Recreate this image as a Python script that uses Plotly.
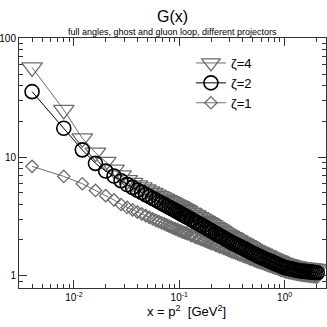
import plotly.graph_objects as go

# momenta x = p^2 [GeV^2] (shared by all three projectors)
x_vals = [0.004, 0.008, 0.012, 0.016, 0.020, 0.024, 0.028, 0.032, 0.036, 0.040,
          0.044, 0.048, 0.052, 0.056, 0.060, 0.064, 0.068, 0.072, 0.076, 0.080,
          0.084, 0.088, 0.092, 0.096, 0.100,
          0.104, 0.108, 0.112, 0.116, 0.120, 0.128, 0.132, 0.140, 0.144, 0.152,
          0.160, 0.168, 0.176, 0.184, 0.192, 0.200, 0.208, 0.220, 0.228, 0.240,
          0.252, 0.264, 0.276, 0.288, 0.300, 0.316, 0.328, 0.344, 0.360, 0.376,
          0.392, 0.412, 0.432, 0.452, 0.472, 0.492, 0.516, 0.540, 0.564, 0.588,
          0.616, 0.644, 0.672, 0.704, 0.736, 0.768, 0.804, 0.840, 0.880, 0.920,
          0.960, 1.004, 1.048, 1.096, 1.148, 1.200, 1.252, 1.312, 1.372, 1.432,
          1.496, 1.564, 1.636, 1.712, 1.788, 1.868, 1.952, 2.040]

g_zeta4 = [57, 25.0, 14.4, 10.9, 9.12, 7.85, 7.0, 6.38, 6.05, 5.78,
           5.55, 5.33, 5.14, 4.98, 4.83, 4.69, 4.57, 4.46, 4.35, 4.25,
           4.16, 4.07, 3.99, 3.92, 3.85,
           3.77, 3.70, 3.64, 3.57, 3.51, 3.40, 3.35, 3.25, 3.21, 3.12,
           3.04, 2.97, 2.90, 2.83, 2.77, 2.70, 2.65, 2.57, 2.52, 2.45,
           2.38, 2.32, 2.26, 2.21, 2.16, 2.11, 2.07, 2.02, 1.98, 1.93,
           1.90, 1.85, 1.81, 1.77, 1.73, 1.69, 1.65, 1.62, 1.585, 1.56,
           1.53, 1.50, 1.48, 1.45, 1.42, 1.40, 1.37, 1.35, 1.33, 1.30,
           1.28, 1.26, 1.25, 1.24, 1.22, 1.21, 1.20, 1.19, 1.18, 1.17,
           1.17, 1.16, 1.16, 1.15, 1.15, 1.14, 1.14, 1.135]

g_zeta2 = [35.6, 17.5, 11.5, 8.85, 7.62, 6.92, 6.32, 5.86, 5.55, 5.26,
           5.04, 4.82, 4.65, 4.48, 4.34, 4.20, 4.08, 3.97, 3.86, 3.78,
           3.68, 3.61, 3.52, 3.46, 3.39,
           3.32, 3.26, 3.20, 3.15, 3.09, 3.00, 2.95, 2.86, 2.82, 2.75,
           2.68, 2.62, 2.56, 2.50, 2.45, 2.39, 2.35, 2.28, 2.24, 2.18,
           2.13, 2.08, 2.03, 1.99, 1.95, 1.90, 1.87, 1.83, 1.79, 1.76,
           1.73, 1.69, 1.65, 1.62, 1.58, 1.55, 1.52, 1.49, 1.46, 1.44,
           1.41, 1.39, 1.36, 1.34, 1.32, 1.30, 1.27, 1.25, 1.23, 1.21,
           1.19, 1.17, 1.16, 1.15, 1.14, 1.13, 1.12, 1.11, 1.10, 1.095,
           1.09, 1.086, 1.081, 1.077, 1.073, 1.068, 1.064, 1.059]

g_zeta1 = [8.35, 6.87, 5.96, 5.23, 4.73, 4.35, 3.98, 3.76, 3.59, 3.44,
           3.32, 3.21, 3.10, 3.01, 2.93, 2.86, 2.79, 2.73, 2.67, 2.62,
           2.57, 2.52, 2.48, 2.44, 2.40,
           2.37, 2.33, 2.30, 2.28, 2.25, 2.20, 2.17, 2.13, 2.10, 2.06,
           2.03, 1.99, 1.96, 1.93, 1.90, 1.87, 1.85, 1.81, 1.79, 1.75,
           1.73, 1.70, 1.67, 1.65, 1.62, 1.59, 1.57, 1.55, 1.52, 1.50,
           1.48, 1.45, 1.43, 1.41, 1.38, 1.37, 1.34, 1.32, 1.30, 1.29,
           1.27, 1.25, 1.23, 1.21, 1.20, 1.18, 1.16, 1.15, 1.13, 1.11,
           1.10, 1.08, 1.07, 1.06, 1.05, 1.045, 1.036, 1.026, 1.018, 1.010,
           1.006, 1.001, 0.996, 0.991, 0.987, 0.982, 0.978, 0.973]

series_names = ["ζ=4", "ζ=2", "ζ=1"]
x_tick_vals = [0.01, 0.1, 1]
x_tick_text = ["10<sup>-2</sup>", "10<sup>-1</sup>", "10<sup>0</sup>"]
y_tick_vals = [1, 10, 100]
y_tick_text = ["1", "10", "100"]

assert len(x_vals) == len(g_zeta4) == len(g_zeta2) == len(g_zeta1)

FONT = "Liberation Sans, Arial, sans-serif"
GRAY = "#6c6c6c"

fig = go.Figure()
# drawing order: diamonds, triangles, circles on top; legend order kept by rank
styles = {
    "ζ=4": (g_zeta4, "triangle-down-open", 18, GRAY, 1.3, 1),
    "ζ=2": (g_zeta2, "circle-open", 14, "#000000", 1.6, 2),
    "ζ=1": (g_zeta1, "diamond-open", 9.5, GRAY, 1.3, 3),
}
for name in ["ζ=1", "ζ=4", "ζ=2"]:
    ys, sym, size, col, lw, rank = styles[name]
    fig.add_trace(go.Scatter(
        x=x_vals, y=ys, mode="lines+markers", name=name, legendrank=rank,
        line=dict(color=col, width=1),
        marker=dict(symbol=sym, size=size, color=col, line=dict(width=lw, color=col)),
    ))

minor_x = [m * 10 ** e for e in (-3, -2, -1, 0) for m in range(2, 10)]
minor_y = [m * 10 ** e for e in (-1, 0, 1) for m in range(2, 10)]

axis_common = dict(
    type="log", ticks="inside", ticklen=8, tickwidth=1, tickcolor="#333",
    showline=True, linecolor="#333", linewidth=1, mirror="ticks",
    showgrid=False, zeroline=False, automargin=False,
    tickfont=dict(family=FONT, size=10, color="#000"),
)
fig.update_xaxes(
    range=[-2.522, 0.393], tickvals=x_tick_vals, ticktext=x_tick_text,
    minor=dict(tickvals=minor_x, ticks="inside", ticklen=4, tickcolor="#333", showgrid=False),
    **axis_common,
)
fig.update_yaxes(
    range=[-0.104, 2.004], tickvals=y_tick_vals, ticktext=y_tick_text,
    minor=dict(tickvals=minor_y, ticks="inside", ticklen=4, tickcolor="#333", showgrid=False),
    **axis_common,
)

fig.update_layout(
    width=327, height=327,
    margin=dict(l=19, r=1, t=38, b=39, autoexpand=False),
    paper_bgcolor="white", plot_bgcolor="white",
    font=dict(family=FONT, color="#000"),
    showlegend=True,
    legend=dict(x=0.56, y=0.96, xanchor="left", yanchor="top",
                bgcolor="rgba(0,0,0,0)", font=dict(family=FONT, size=13),
                tracegroupgap=0, itemwidth=30),
    annotations=[
        dict(text="G(x)", xref="paper", yref="paper", x=0.5, y=1.0,
             yshift=32, showarrow=False, font=dict(family=FONT, size=16)),
        dict(text="full angles, ghost and gluon loop, different projectors",
             xref="paper", yref="paper", x=0.5, y=1.0, yshift=13,
             showarrow=False, font=dict(family=FONT, size=9)),
        dict(text="x = p<sup>2</sup>  [GeV<sup>2</sup>]", xref="paper", yref="paper",
             x=0.545, y=-0.13, showarrow=False, font=dict(family=FONT, size=13)),
    ],
)

fig.write_html(
    "out.html",
    config={"displayModeBar": False},
    post_script="document.body.style.margin='0px';document.body.style.overflow='hidden';",
)
